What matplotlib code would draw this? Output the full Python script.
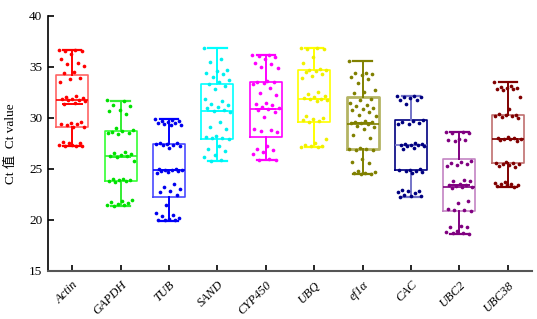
import matplotlib.pyplot as plt
import numpy as np

genes = ['Actin', 'GAPDH', 'TUB', 'SAND', 'CYP450', 'UBQ', 'ef1α', 'CAC', 'UBC2', 'UBC38']

# box statistics
whislo = [27.2, 21.3, 19.9, 25.8, 25.85, 27.1, 24.5, 22.2, 18.6, 23.2]
q1 = [29.1, 23.8, 22.25, 27.9, 28.1, 29.6, 26.9, 24.9, 20.85, 25.6]
med = [31.7, 26.2, 24.9, 30.7, 30.9, 31.8, 29.35, 27.3, 23.2, 27.9]
means = [31.4, 26.1, 24.9, 30.7, 30.9, 31.8, 29.5, 27.3, 23.4, 27.95]
q3 = [34.2, 28.7, 27.4, 33.3, 33.5, 34.65, 32.0, 29.8, 26.0, 30.3]
whishi = [36.7, 31.65, 29.85, 36.9, 36.2, 36.9, 35.6, 32.1, 28.6, 33.55]

actin = [36.7, 36.7, 36.6, 36.6, 36.3, 35.8, 35.4, 35.3, 35.1, 34.5, 34.4, 33.9, 33.8, 33.5,
         32.1, 32.0, 31.9, 31.8, 31.8, 31.7, 31.7, 31.6, 31.5, 31.4, 29.6, 29.5, 29.4, 29.4,
         29.3, 29.1, 29.1, 27.6, 27.5, 27.5, 27.3, 27.2, 27.2, 27.2, 27.3]
gapdh = [31.7, 31.6, 31.3, 31.2, 30.8, 30.7, 30.4, 29.0, 28.8, 28.7, 28.6, 28.5, 28.4, 28.5,
         26.6, 26.5, 26.4, 26.3, 26.2, 26.2, 26.1, 25.8, 24.0, 24.0, 23.9, 23.9, 23.8, 23.8,
         23.7, 21.9, 21.8, 21.7, 21.6, 21.5, 21.4, 21.4, 21.3]
tub = [29.9, 29.8, 29.7, 29.7, 29.6, 29.5, 29.5, 29.4, 29.3, 29.3, 27.5, 27.5, 27.4, 27.4,
       27.3, 27.3, 27.2, 27.0, 25.0, 25.0, 24.9, 24.9, 24.9, 24.8, 24.8, 24.7, 24.6, 23.5,
       23.2, 23.0, 22.8, 22.7, 22.4, 21.4, 20.6, 20.5, 20.4, 20.2, 20.1, 20.0, 20.0, 20.0]
sand = [36.9, 35.8, 35.5, 34.7, 34.6, 34.4, 34.3, 34.0, 33.7, 33.5, 33.3, 33.1, 32.8, 31.8,
        31.6, 31.4, 31.3, 31.1, 31.0, 30.8, 30.7, 30.6, 29.6, 29.1, 28.9, 28.2, 28.1, 28.0,
        28.0, 27.9, 27.2, 26.9, 26.7, 26.3, 26.1, 25.9, 25.8]
cyp450 = [36.2, 36.2, 36.1, 36.0, 35.8, 35.4, 35.3, 35.0, 34.9, 33.6, 33.5, 33.5, 33.4, 33.3,
          32.9, 32.4, 32.2, 31.5, 31.4, 31.3, 31.1, 31.0, 30.9, 30.8, 30.6, 30.1, 28.9, 28.8,
          28.7, 28.6, 27.2, 26.9, 26.8, 26.6, 26.4, 26.0, 25.9, 25.9]
ubq = [36.9, 36.9, 36.8, 36.8, 36.0, 35.4, 34.8, 34.7, 34.7, 34.6, 34.5, 34.3, 34.1, 33.9,
       32.5, 32.3, 32.1, 32.0, 31.9, 31.8, 31.8, 31.7, 31.6, 30.2, 30.0, 29.9, 29.8, 29.7,
       29.6, 27.9, 27.5, 27.3, 27.2, 27.2, 27.1, 27.1]
ef1a = [35.6, 34.4, 34.4, 34.3, 34.2, 34.0, 33.8, 33.4, 32.7, 32.5, 32.4, 31.8, 31.7, 31.5,
        31.3, 31.2, 31.0, 30.9, 30.8, 30.6, 30.3, 30.2, 29.7, 29.6, 29.6, 29.5, 29.5, 29.4,
        29.2, 29.1, 28.9, 28.3, 28.0, 27.0, 26.9, 26.9, 26.8, 26.8, 26.0, 25.7, 25.6, 24.8,
        24.7, 24.6, 24.6, 24.5, 24.5]
cac = [32.1, 32.1, 32.0, 32.0, 31.9, 31.7, 31.7, 31.4, 29.8, 29.7, 29.6, 29.5, 29.4, 29.4,
       27.5, 27.4, 27.4, 27.3, 27.3, 27.3, 27.2, 27.2, 27.0, 26.9, 25.0, 24.9, 24.9, 24.8,
       24.8, 24.7, 24.6, 22.9, 22.8, 22.8, 22.7, 22.6, 22.4, 22.3, 22.3, 22.2]
ubc2 = [28.6, 28.6, 28.5, 28.5, 27.9, 27.8, 27.8, 27.7, 25.8, 25.7, 25.6, 25.5, 25.4, 25.3,
        23.9, 23.8, 23.8, 23.5, 23.4, 23.4, 23.3, 23.2, 23.2, 23.1, 21.8, 21.6, 21.0, 20.9,
        20.9, 20.8, 19.4, 19.3, 19.3, 18.9, 18.8, 18.7, 18.7, 18.6]
ubc38 = [33.5, 33.1, 33.0, 32.9, 32.9, 32.8, 32.8, 32.7, 32.0, 30.9, 30.4, 30.3, 30.3, 30.2,
         30.2, 30.1, 30.0, 28.1, 28.0, 28.0, 27.9, 27.9, 27.9, 27.8, 27.7, 25.7, 25.6, 25.6,
         25.5, 25.5, 25.4, 25.3, 25.2, 23.7, 23.6, 23.5, 23.5, 23.4, 23.4, 23.3, 23.2]
points = [actin, gapdh, tub, sand, cyp450, ubq, ef1a, cac, ubc2, ubc38]

box_col = ['#ff6464', '#33ff33', '#4a4aff', '#00ffff', '#ff00ff', '#ffff00', '#b4b464', '#000080', '#c484c4', '#c07070']
whis_col = ['#ff0000', '#33ee33', '#0000ff', '#00ffff', '#ff00ff', '#ffff00', '#808000', '#7474c8', '#800080', '#800000']
dot_col = ['#ff0000', '#00e000', '#0000ee', '#00f0f0', '#ff00ff', '#f0f000', '#808000', '#000080', '#800080', '#800000']

fig = plt.figure(figsize=(5.37, 3.19), dpi=100)
ax = fig.add_axes([0.0894, 0.152, 0.9013, 0.798])

x = np.arange(len(genes))
bw = 0.66
for i in range(len(genes)):
    st = [dict(whislo=whislo[i], q1=q1[i], med=med[i], q3=q3[i], whishi=whishi[i], fliers=[])]
    lwb = 2.0 if i == 6 else 1.2
    ax.bxp(st, positions=[x[i]], widths=bw, showfliers=False, capwidths=0.38,
           boxprops=dict(color=box_col[i], lw=lwb),
           medianprops=dict(color=whis_col[i], lw=1.2),
           whiskerprops=dict(color=whis_col[i], lw=1.4),
           capprops=dict(color=whis_col[i], lw=1.6))
    ax.hlines(means[i], x[i] - 0.22, x[i] + 0.22, color=whis_col[i], lw=1.4, zorder=3)
    n = len(points[i])
    jit = ((np.arange(n) * 0.618034) % 1 - 0.5) * 0.56
    ax.scatter(x[i] + jit, points[i], s=7, color=dot_col[i], lw=0, zorder=4)

ax.set_xlim(-0.5, 9.5)
ax.set_ylim(15, 40)
ax.set_yticks([15, 20, 25, 30, 35, 40])
ax.set_xticks(x)
ax.set_xticklabels(genes, rotation=45, ha='right', rotation_mode='anchor',
                   fontstyle='italic', family='Liberation Serif', fontsize=9)
for lab in ax.get_yticklabels():
    lab.set_family('Liberation Serif')
    lab.set_fontsize(9.5)
ax.tick_params(direction='in', length=4, width=1.2, pad=4)
ax.tick_params(axis='x', pad=6)
ax.spines['top'].set_visible(False)
ax.spines['right'].set_visible(False)
ax.spines['left'].set_linewidth(1.2)
ax.spines['bottom'].set_linewidth(1.5)
ax.spines['bottom'].set_color('#555555')
ax.set_ylabel('Ct 值  Ct value', family=['Liberation Serif', 'Noto Sans CJK SC'],
              fontsize=9.5, labelpad=9)

fig.savefig('out.png', dpi=100)
